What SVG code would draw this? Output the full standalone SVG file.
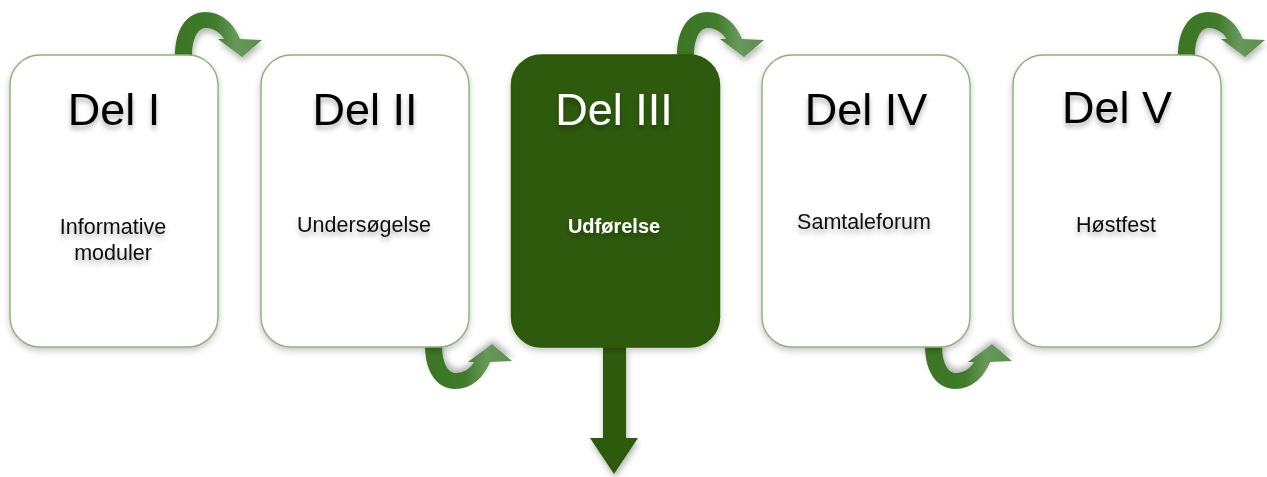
<svg xmlns="http://www.w3.org/2000/svg" xmlns:xlink="http://www.w3.org/1999/xlink" width="1267" height="477" viewBox="0 0 1267 477">
  <style>
    .card { fill: #ffffff; stroke: #8db27a; stroke-width: 1.5; filter: url(#boxShadow); }
    .card.active { fill: #2e5a07; stroke: #2e5a07; }
    .title { font-family: "Liberation Sans", Arial, sans-serif; font-size: 45px; fill: #000000; text-anchor: middle; filter: url(#textShadow); }
    .sub { font-family: "Liberation Sans", Arial, sans-serif; font-size: 21.5px; fill: #111111; text-anchor: middle; filter: url(#textShadow); }
    .light { fill: #ffffff; }
    .bold { font-weight: bold; font-size: 20px; }
    .turn { fill: url(#turnGrad); filter: url(#arrowShadow); }
    .down { fill: #2e5a07; filter: url(#arrowShadow); }
  </style>
  <defs>
    <filter id="boxShadow" x="-10%" y="-10%" width="120%" height="125%">
      <feDropShadow dx="0" dy="3" stdDeviation="3" flood-color="#000000" flood-opacity="0.22"/>
    </filter>
    <filter id="textShadow" x="-10%" y="-30%" width="120%" height="170%">
      <feDropShadow dx="0" dy="4" stdDeviation="2.5" flood-color="#000000" flood-opacity="0.3"/>
    </filter>
    <filter id="arrowShadow" x="-20%" y="-20%" width="140%" height="150%">
      <feDropShadow dx="1" dy="4" stdDeviation="3" flood-color="#000000" flood-opacity="0.3"/>
    </filter>
    <linearGradient id="turnGrad" x1="0" y1="0" x2="1" y2="0">
      <stop offset="0" stop-color="#3b7625"/>
      <stop offset="0.45" stop-color="#3f7a2a"/>
      <stop offset="0.7" stop-color="#67985a"/>
      <stop offset="1" stop-color="#5d8f4b"/>
    </linearGradient>
    <!-- curved turn arrow: rises from a card top, bends over and points down-right -->
    <path id="turnArrow" d="M175,56 C175,26 189,12 205,12 C222,12 234,24 240,39 L262,40 L242,57 L218,39 L224,39 C220,32 213,28 206,28 C198,28 192,38 192,56 Z"/>
  </defs>

  <!-- connectors -->
  <g id="connectors">
    <use xlink:href="#turnArrow" class="turn"/>
    <use xlink:href="#turnArrow" class="turn" transform="translate(502,0)"/>
    <use xlink:href="#turnArrow" class="turn" transform="translate(1003,0)"/>
    <use xlink:href="#turnArrow" class="turn" transform="translate(250,401) scale(1,-1)"/>
    <use xlink:href="#turnArrow" class="turn" transform="translate(750,401) scale(1,-1)"/>
    <path class="down" d="M603,346 L626,346 L626,438 L638,438 L614,474 L590,438 L603,438 Z"/>
  </g>

  <g id="node-del1">
    <rect class="card" x="10" y="55" width="208" height="292" rx="30"/>
    <text class="title" x="114" y="125">Del I</text>
    <text class="sub" x="113" y="234">Informative</text>
    <text class="sub" x="113" y="260">moduler</text>
  </g>

  <g id="node-del2">
    <rect class="card" x="261" y="55" width="208" height="292" rx="30"/>
    <text class="title" x="365" y="125">Del II</text>
    <text class="sub" x="364" y="232">Undersøgelse</text>
  </g>

  <g id="node-del3">
    <rect class="card active" x="511.5" y="55" width="208" height="292" rx="30"/>
    <text class="title light" x="614" y="125">Del III</text>
    <text class="sub light bold" x="614" y="233">Udførelse</text>
  </g>

  <g id="node-del4">
    <rect class="card" x="762" y="55" width="208" height="292" rx="30"/>
    <text class="title" x="866" y="125">Del IV</text>
    <text class="sub" x="864" y="229">Samtaleforum</text>
  </g>

  <g id="node-del5">
    <rect class="card" x="1013" y="55" width="208" height="292" rx="30"/>
    <text class="title" x="1117" y="123">Del V</text>
    <text class="sub" x="1116" y="232">Høstfest</text>
  </g>
</svg>
